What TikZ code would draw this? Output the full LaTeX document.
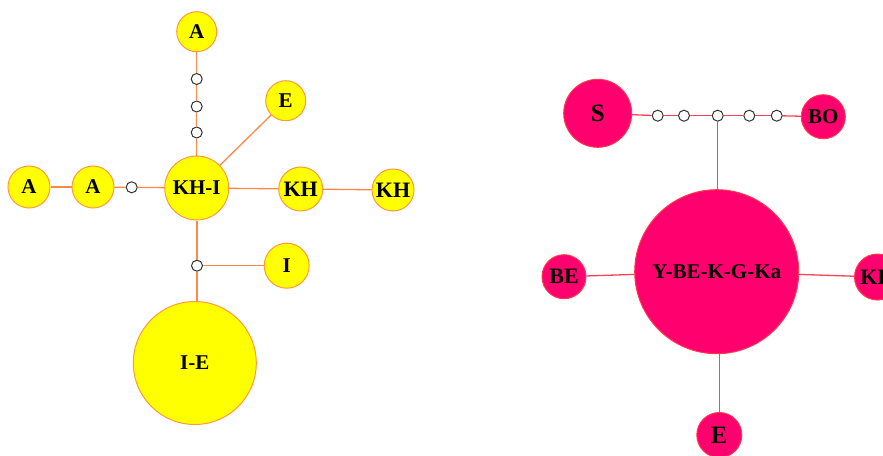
\documentclass[tikz,border=0pt]{standalone}
\usepackage{fontspec}
\setmainfont{Liberation Serif}
\definecolor{yfill}{HTML}{FFFF00}
\definecolor{ydraw}{HTML}{FF9A3C}
\definecolor{yline}{HTML}{FF8848}
\definecolor{pfill}{HTML}{FF006E}
\definecolor{pdraw}{HTML}{FF3A50}
\definecolor{pline}{HTML}{FF4455}
\definecolor{mdraw}{HTML}{333333}
\tikzset{
  ynode/.style={circle, fill=yfill, draw=ydraw, line width=1pt, inner sep=0pt, font=\fontsize{21}{21}\selectfont\bfseries},
  pnode/.style={circle, fill=pfill, draw=pdraw, line width=1pt, inner sep=0pt, font=\fontsize{21}{21}\selectfont\bfseries},
  med/.style={circle, fill=white, draw=mdraw, line width=1pt, inner sep=0pt, minimum size=11pt},
  yedge/.style={draw=yline, line width=1.3pt},
  pedge/.style={draw=pline, line width=1.3pt}
}
\begin{document}
\begin{tikzpicture}[x=1pt,y=-1pt]
\clip (0,0) rectangle (883,455);
\fill[white] (0,0) rectangle (883,455);
% left network
\node[ynode, minimum size=40pt] (Atop) at (196.7,31.7) {A};
\node[med] (m1) at (196.7,79) {};
\node[med] (m2) at (196.7,106.5) {};
\node[med] (m3) at (196.7,132.5) {};
\node[ynode, minimum size=40pt] (E1) at (285.7,100.7) {E};
\node[ynode, minimum size=64pt] (KHI) at (196.7,188) {KH-I};
\node[ynode, minimum size=42pt] (A1) at (29,187) {A};
\node[ynode, minimum size=42pt] (A2) at (93,187) {A};
\node[med] (m4) at (131.7,187.3) {};
\node[ynode, minimum size=44pt, font=\fontsize{22}{22}\selectfont\bfseries] (KH1) at (300.7,189) {KH};
\node[ynode, minimum size=42pt, font=\fontsize{22}{22}\selectfont\bfseries] (KH2) at (393,190) {KH};
\node[med] (m5) at (197,265.7) {};
\node[ynode, minimum size=45pt] (I1) at (286.7,265.7) {I};
\node[ynode, minimum size=123pt] (IE) at (194.8,363) {I-E};
\draw[yedge] (Atop) -- (m1);
\draw[yedge] (m1) -- (m2);
\draw[yedge] (m2) -- (m3);
\draw[yedge] (m3) -- (KHI);
\draw[yedge] (KHI) -- (E1);
\draw[yedge] (A1) -- (A2);
\draw[yedge] (A2) -- (m4);
\draw[yedge] (m4) -- (KHI);
\draw[yedge] (KHI) -- (KH1);
\draw[yedge] (KH1) -- (KH2);
\draw[yedge] (KHI.south -| m5) -- (m5);
\draw[yedge] (m5) -- (I1);
\draw[yedge] (m5) -- (IE.north -| m5);
% right network
\node[pnode, minimum size=68pt, font=\fontsize{25}{25}\selectfont\bfseries] (S) at (597.7,113.3) {S};
\node[med] (n1) at (657.7,115.7) {};
\node[med] (n2) at (684,115.7) {};
\node[med] (n3) at (717.7,115.7) {};
\node[med] (n4) at (749.3,115.7) {};
\node[med] (n5) at (776.7,115.7) {};
\node[pnode, minimum size=44pt] (BO) at (823.3,116.7) {BO};
\node[pnode, minimum size=164pt] (Y) at (716.7,271.7) {Y-BE-K-G-Ka};
\node[pnode, minimum size=44pt, font=\fontsize{22}{22}\selectfont\bfseries] (BE) at (564,276.7) {BE};
\node[pnode, minimum size=45pt, font=\fontsize{25}{25}\selectfont\bfseries] (E2) at (719.3,435) {E};
\node[pnode, minimum size=46pt, font=\fontsize{22}{22}\selectfont\bfseries] (KH3) at (877.5,277) {KH};
\draw[pedge] (S) -- (n1);
\draw[pedge] (n1) -- (n2);
\draw[pedge] (n2) -- (n3);
\draw[pedge] (n3) -- (n4);
\draw[pedge] (n4) -- (n5);
\draw[pedge] (n5) -- (BO);
\draw[pedge] (n3) -- (n3 |- Y.north);
\draw[pedge] (BE) -- (Y);
\draw[pedge] (Y) -- (KH3);
\draw[pedge] (Y.south -| E2) -- (E2);
\end{tikzpicture}
\end{document}
